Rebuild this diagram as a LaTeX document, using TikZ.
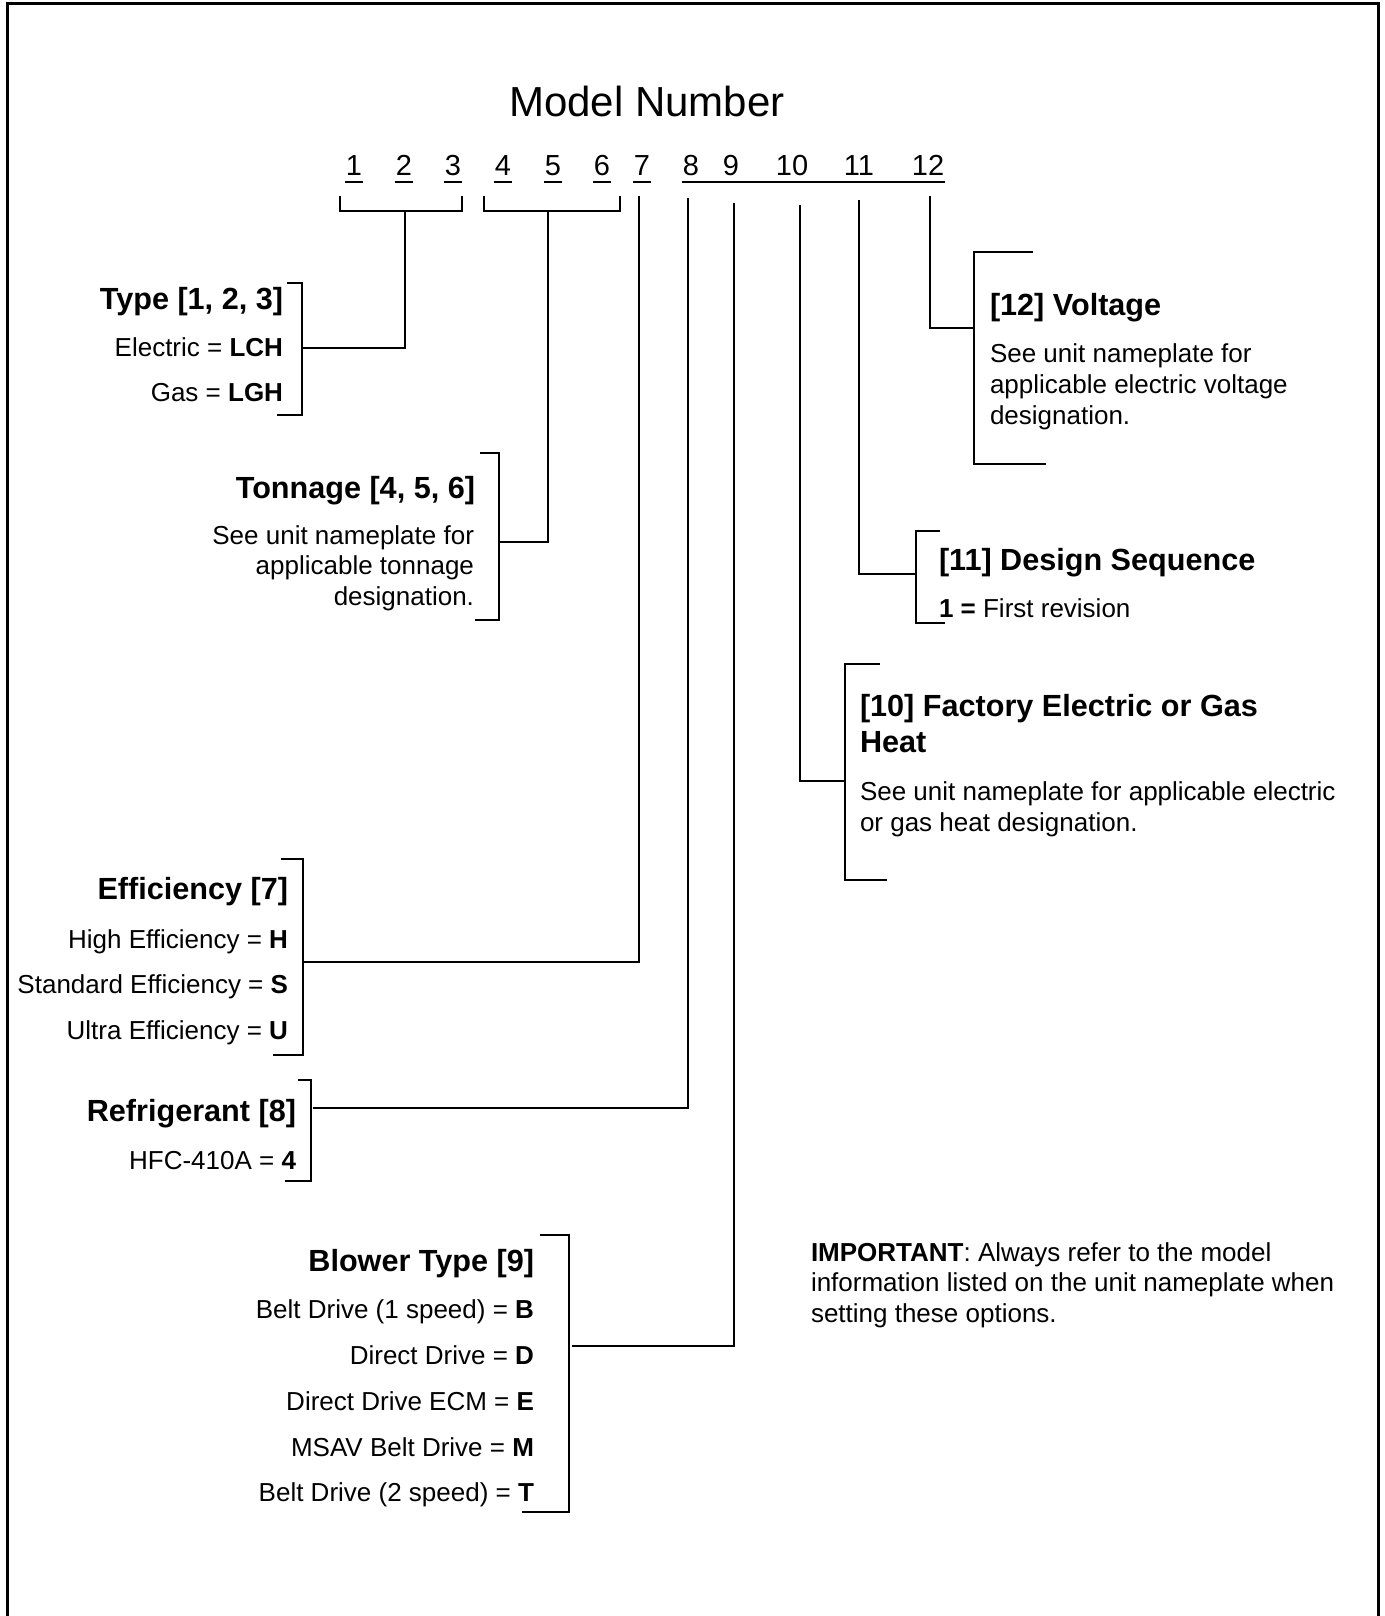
\documentclass[tikz,border=0pt]{standalone}
\usepackage{fontspec}
\setmainfont{Liberation Sans}
\begin{document}
\begin{tikzpicture}[x=0.5pt,y=-0.5pt,line width=1pt,
  body/.style={font=\fontsize{13}{15.5}\selectfont,inner sep=0pt},
  head/.style={font=\fontsize{15.3}{18}\selectfont\bfseries,inner sep=0pt},
  digit/.style={font=\fontsize{14.5}{17}\selectfont,inner sep=0pt,anchor=base},
  conn/.style={line width=1pt},
  brk/.style={line width=1pt}]
\useasboundingbox (0,0) rectangle (1385,1616);
\draw[line width=1.5pt] (7,1630) -- (7,4) -- (1378,4) -- (1378,1630);

% title and digits
\node[anchor=base,font=\fontsize{21}{25}\selectfont,inner sep=0pt] (title) at (647,117) {Model Number};
\foreach \n/\x in {1/354,2/404,3/453,4/503,5/553,6/602,7/642,8/691,9/731,10/792,11/859,12/928}
  \node[digit] (d\n) at (\x,176) {\n};
\foreach \n in {1,...,7}
  \draw ([yshift=-2.8pt]d\n.base west) -- ([yshift=-2.8pt]d\n.base east);
\draw ([yshift=-2.8pt]d8.base west) -- ([yshift=-2.8pt]d12.base east);

% top brackets and stems
\draw[brk] (340,196) -- (340,211) -- (462,211) -- (462,196);
\coordinate (s123) at (405,211);
\draw[brk] (484,196) -- (484,211) -- (620,211) -- (620,196);
\coordinate (s456) at (548,211);
\coordinate (s7) at (639,196);
\coordinate (s8) at (688,198);
\coordinate (s9) at (734,203);
\coordinate (s10) at (800,205);
\coordinate (s11) at (859,200);
\coordinate (s12) at (930,196);

% ---------- Type [1,2,3]
\node[head,anchor=base east] (typeh) at (284,309) {Type [1, 2, 3]};
\node[body,anchor=base east] (type1) at (284,356) {Electric = \textbf{LCH}};
\node[body,anchor=base east] (type2) at (284,401) {Gas = \textbf{LGH}};
\draw[brk] (287,283) -- (302,283) -- (302,415) -- (277,415);
\coordinate (typeb) at (302,348);
\draw[conn] (s123) |- (typeb);

% ---------- Tonnage
\node[head,anchor=base east] (tonh) at (476,498) {Tonnage [4, 5, 6]};
\node[body,anchor=base east] (ton1) at (475,544) {See unit nameplate for};
\node[body,anchor=base east] (ton2) at (475,574) {applicable tonnage};
\node[body,anchor=base east] (ton3) at (475,605) {designation.};
\draw[brk] (480,453) -- (499,453) -- (499,620) -- (475,620);
\coordinate (tonb) at (499,542);
\draw[conn] (s456) |- (tonb);

% ---------- Efficiency
\node[head,anchor=base east] (effh) at (289,899) {Efficiency [7]};
\node[body,anchor=base east] (eff1) at (289,948) {High Efficiency = \textbf{H}};
\node[body,anchor=base east] (eff2) at (289,993) {Standard Efficiency = \textbf{S}};
\node[body,anchor=base east] (eff3) at (289,1039) {Ultra Efficiency = \textbf{U}};
\draw[brk] (281,859) -- (303,859) -- (303,1055) -- (273,1055);
\coordinate (effb) at (303,962);
\draw[conn] (s7) |- (effb);

% ---------- Refrigerant
\node[head,anchor=base east] (refh) at (297,1121) {Refrigerant [8]};
\node[body,anchor=base east] (ref1) at (297,1169) {HFC-410A = \textbf{4}};
\draw[brk] (298,1080) -- (311,1080) -- (311,1181) -- (285,1181);
\coordinate (refb) at (313,1108);
\draw[conn] (s8) |- (refb);

% ---------- Blower
\node[head,anchor=base east] (blowh) at (535,1271) {Blower Type [9]};
\node[body,anchor=base east] (blow1) at (535,1318) {Belt Drive (1 speed) = \textbf{B}};
\node[body,anchor=base east] (blow2) at (535,1364) {Direct Drive = \textbf{D}};
\node[body,anchor=base east] (blow3) at (535,1410) {Direct Drive ECM = \textbf{E}};
\node[body,anchor=base east] (blow4) at (535,1456) {MSAV Belt Drive = \textbf{M}};
\node[body,anchor=base east] (blow5) at (535,1501) {Belt Drive (2 speed) = \textbf{T}};
\draw[brk] (540,1235) -- (569,1235) -- (569,1512) -- (522,1512);
\coordinate (blowb) at (572,1346);
\draw[conn] (s9) |- (blowb);

% ---------- Voltage [12]
\node[head,anchor=base west] (volh) at (989,315) {[12] Voltage};
\node[body,anchor=base west] (vol1) at (989,362) {See unit nameplate for};
\node[body,anchor=base west] (vol2) at (989,393) {applicable electric voltage};
\node[body,anchor=base west] (vol3) at (989,424) {designation.};
\draw[brk] (1033,252) -- (974,252) -- (974,464) -- (1046,464);
\coordinate (volb) at (974,328);
\draw[conn] (s12) |- (volb);

% ---------- Design Sequence [11]
\node[head,anchor=base west] (desh) at (938,570) {[11] Design Sequence};
\node[body,anchor=base west] (des1) at (938,617) {\textbf{1 =} First revision};
\draw[brk] (940,531) -- (916,531) -- (916,623) -- (945,623);
\coordinate (desb) at (916,574);
\draw[conn] (s11) |- (desb);

% ---------- Factory heat [10]
\node[head,anchor=base west] (fach) at (859,716) {[10] Factory Electric or Gas};
\node[head,anchor=base west] (fach2) at (859,752) {Heat};
\node[body,anchor=base west] (fac1) at (859,800) {See unit nameplate for applicable electric};
\node[body,anchor=base west] (fac2) at (859,831) {or gas heat designation.};
\draw[brk] (880,664) -- (845,664) -- (845,880) -- (887,880);
\coordinate (facb) at (845,781);
\draw[conn] (s10) |- (facb);

% ---------- Important note
\node[body,anchor=base west] (imp1) at (810,1261) {\textbf{IMPORTANT}: Always refer to the model};
\node[body,anchor=base west] (imp2) at (810,1291) {information listed on the unit nameplate when};
\node[body,anchor=base west] (imp3) at (810,1322) {setting these options.};
\end{tikzpicture}
\end{document}
